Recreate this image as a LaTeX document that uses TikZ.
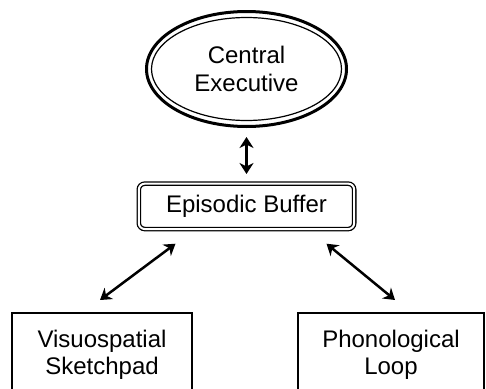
\documentclass[tikz,border=0pt]{standalone}
\usepackage{fontspec}
\setmainfont{Liberation Sans}
\usetikzlibrary{positioning}
\usetikzlibrary{shapes.geometric}
\usetikzlibrary{arrows.meta}
\tikzset{
  txt/.style={font=\fontsize{24}{27.5}\selectfont,align=center},
  slave/.style={draw,txt,line width=2pt,minimum width=180pt,minimum height=84pt},
  link/.style={{Stealth[length=11pt,width=14pt,inset=3.5pt]}-{Stealth[length=11pt,width=14pt,inset=3.5pt]},line width=2.5pt}
}
\begin{document}
\begin{tikzpicture}[x=1pt,y=-1pt,node distance=55pt]
  \useasboundingbox (0,0) rectangle (486,388);
  \node[draw,ellipse,txt,line width=3pt,minimum width=200pt,minimum height=115pt,inner sep=0pt](central) at (246.5,69) {Central\\Executive};
  \draw[line width=1.2pt] (central.center) ellipse [x radius=95pt,y radius=51.5pt];
  \node[below= of central,draw,txt,double,double distance=2pt,line width=1.3pt,rounded corners=6pt,minimum width=215.4pt,minimum height=45.4pt,inner sep=0pt](buffer) {Episodic Buffer};
  \node[slave](sketch) at (102,355) {Visuospatial\\Sketchpad};
  \node[slave,minimum width=186pt](loop) at (391,355) {Phonological\\Loop};
  \draw[link] ([yshift=-9pt]central.south) -- ([yshift=9pt]buffer.north);
  \draw[link] ([xshift=-71pt,yshift=-14pt]buffer.south) -- ([xshift=-2pt,yshift=12pt]sketch.north);
  \draw[link] ([xshift=80pt,yshift=-14pt]buffer.south) -- ([xshift=4pt,yshift=12pt]loop.north);
\end{tikzpicture}
\end{document}
